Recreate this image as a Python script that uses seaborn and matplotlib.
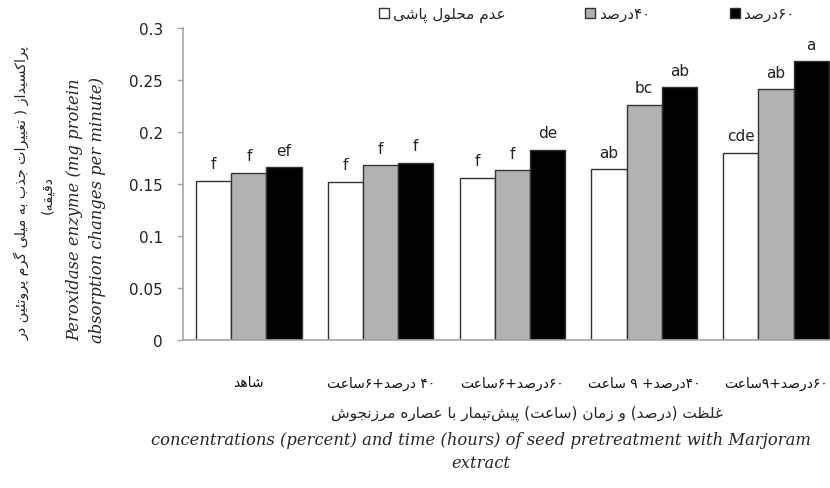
import re
import pandas as pd
import seaborn as sns
import matplotlib
matplotlib.use("Agg")
import matplotlib.pyplot as plt
from matplotlib.patches import Patch
from matplotlib.ticker import FuncFormatter

# data
treatments = ["شاهد", "۴۰ درصد+۶ساعت", "۶۰درصد+۶ساعت", "۴۰درصد+ ۹ ساعت", "۶۰درصد+۹ساعت"]
levels = ["عدم محلول پاشی", "۴۰درصد", "۶۰درصد"]
no_spray = [0.153, 0.152, 0.156, 0.164, 0.180]
conc_40 = [0.161, 0.168, 0.163, 0.226, 0.241]
conc_60 = [0.166, 0.170, 0.183, 0.243, 0.268]
letters_none = ["f", "f", "f", "ab", "cde"]
letters_40 = ["f", "f", "f", "bc", "ab"]
letters_60 = ["ef", "f", "de", "ab", "a"]
yticks = [0, 0.05, 0.1, 0.15, 0.2, 0.25, 0.3]

ylabel_fa = ["پراکسیداز ( تغییرات جذب به میلی گرم پروتئین در", "دقیقه)"]
ylabel_en = "Peroxidase enzyme (mg protein\nabsorption changes per minute)"
xlabel_fa = "غلظت (درصد) و زمان (ساعت) پیش\u200cتیمار با عصاره مرزنجوش"
xlabel_en = "concentrations (percent) and time (hours) of seed pretreatment with Marjoram\nextract"

# minimal persian shaping: (isolated, final, initial, medial); None -> right-joining only
FORMS = {
    "ا": ("\uFE8D", "\uFE8E", None, None),
    "ب": ("\uFE8F", "\uFE90", "\uFE91", "\uFE92"),
    "پ": ("\uFB56", "\uFB57", "\uFB58", "\uFB59"),
    "ت": ("\uFE95", "\uFE96", "\uFE97", "\uFE98"),
    "ج": ("\uFE9D", "\uFE9E", "\uFE9F", "\uFEA0"),
    "ح": ("\uFEA1", "\uFEA2", "\uFEA3", "\uFEA4"),
    "د": ("\uFEA9", "\uFEAA", None, None),
    "ذ": ("\uFEAB", "\uFEAC", None, None),
    "ر": ("\uFEAD", "\uFEAE", None, None),
    "ز": ("\uFEAF", "\uFEB0", None, None),
    "س": ("\uFEB1", "\uFEB2", "\uFEB3", "\uFEB4"),
    "ش": ("\uFEB5", "\uFEB6", "\uFEB7", "\uFEB8"),
    "ص": ("\uFEB9", "\uFEBA", "\uFEBB", "\uFEBC"),
    "ظ": ("\uFEC5", "\uFEC6", "\uFEC7", "\uFEC8"),
    "ع": ("\uFEC9", "\uFECA", "\uFECB", "\uFECC"),
    "غ": ("\uFECD", "\uFECE", "\uFECF", "\uFED0"),
    "ق": ("\uFED5", "\uFED6", "\uFED7", "\uFED8"),
    "ک": ("\uFB8E", "\uFB8F", "\uFB90", "\uFB91"),
    "گ": ("\uFB92", "\uFB93", "\uFB94", "\uFB95"),
    "ل": ("\uFEDD", "\uFEDE", "\uFEDF", "\uFEE0"),
    "م": ("\uFEE1", "\uFEE2", "\uFEE3", "\uFEE4"),
    "ن": ("\uFEE5", "\uFEE6", "\uFEE7", "\uFEE8"),
    "و": ("\uFEED", "\uFEEE", None, None),
    "ه": ("\uFEE9", "\uFEEA", "\uFEEB", "\uFEEC"),
    "ی": ("\uFBFC", "\uFBFD", "\uFBFE", "\uFBFF"),
    "ئ": ("\uFE89", "\uFE8A", "\uFE8B", "\uFE8C"),
}
MIRROR = {"(": ")", ")": "("}
DIGITS = "0123456789۰۱۲۳۴۵۶۷۸۹"


def shape(s):
    out = []
    for i, ch in enumerate(s):
        if ch not in FORMS:
            if ch != "\u200c":
                out.append(ch)
            continue
        prev = s[i - 1] if i > 0 else ""
        nxt = s[i + 1] if i + 1 < len(s) else ""
        join_prev = prev in FORMS and FORMS[prev][2] is not None
        join_next = FORMS[ch][2] is not None and nxt in FORMS
        iso, fin, ini, med = FORMS[ch]
        if join_prev and join_next:
            out.append(med)
        elif join_prev:
            out.append(fin)
        elif join_next:
            out.append(ini)
        else:
            out.append(iso)
    return "".join(out)


def rtl(s):
    runs = re.findall("[" + DIGITS + "]+|.", shape(s))
    return "".join(r if r[0] in DIGITS else MIRROR.get(r, r) for r in reversed(runs))


rows = []
for lvl, vals in zip(levels, [no_spray, conc_40, conc_60]):
    for t, v in zip(treatments, vals):
        rows.append({"treatment": rtl(t), "level": rtl(lvl), "value": v})
df = pd.DataFrame(rows)

sns.set_style("white")
plt.rcParams["font.family"] = ["DejaVu Sans"]

fig = plt.figure(figsize=(8.3, 4.89), dpi=100)
ax = fig.add_axes([0.2205, 0.3027, 0.7795, 0.638])

colors = ["white", "#b2b2b2", "black"]
sns.barplot(data=df, x="treatment", y="value", hue="level", palette=colors,
            edgecolor="#333333", linewidth=1.0, saturation=1, width=0.8,
            legend=False, ax=ax)

for cont, labs in zip(ax.containers, [letters_none, letters_40, letters_60]):
    ax.bar_label(cont, labels=labs, padding=7, fontsize=11, color="#222222")

ax.set_xlim(-0.5, 4.41)
ax.set_ylim(0, 0.3)
ax.set_yticks(yticks)
ax.yaxis.set_major_formatter(FuncFormatter(lambda v, p: f"{v:g}"))
ax.set_xlabel("")
ax.set_ylabel("")
for side in ["top", "right"]:
    ax.spines[side].set_visible(False)
for side in ["left", "bottom"]:
    ax.spines[side].set_color("#a6a6a6")
    ax.spines[side].set_linewidth(1.2)
ax.tick_params(axis="y", left=True, length=4.5, width=1.0, color="#a6a6a6",
               pad=10, labelsize=11, labelcolor="#222222")
ax.tick_params(axis="x", bottom=False, pad=22, labelsize=10, labelcolor="#111111")

handles = [Patch(facecolor=c, edgecolor="#333333", linewidth=1.0) for c in colors]
fig.legend(handles, [rtl(l) for l in levels], loc="center left",
           bbox_to_anchor=(0.457, 0.969), ncol=3, frameon=False, fontsize=11,
           handlelength=0.65, handleheight=0.65, handletextpad=0.25,
           columnspacing=5.2, borderpad=0, borderaxespad=0)

fig.text(22 / 830, 1 - 193 / 489, rtl(ylabel_fa[0]), rotation=90, ha="center", va="center", fontsize=10.3)
fig.text(48 / 830, 1 - 195 / 489, rtl(ylabel_fa[1]), rotation=90, ha="center", va="center", fontsize=10.3)
fig.text(86 / 830, 1 - 210 / 489, ylabel_en, rotation=90, ha="center", va="center",
         fontsize=11.8, style="italic", family="DejaVu Serif", linespacing=1.4)

fig.text(527 / 830, 1 - 414 / 489, rtl(xlabel_fa), ha="center", va="center", fontsize=11)
fig.text(481 / 830, 1 - 452 / 489, xlabel_en, ha="center", va="center",
         fontsize=11.8, style="italic", family="DejaVu Serif", linespacing=1.45)

fig.savefig("out.png", dpi=100)
